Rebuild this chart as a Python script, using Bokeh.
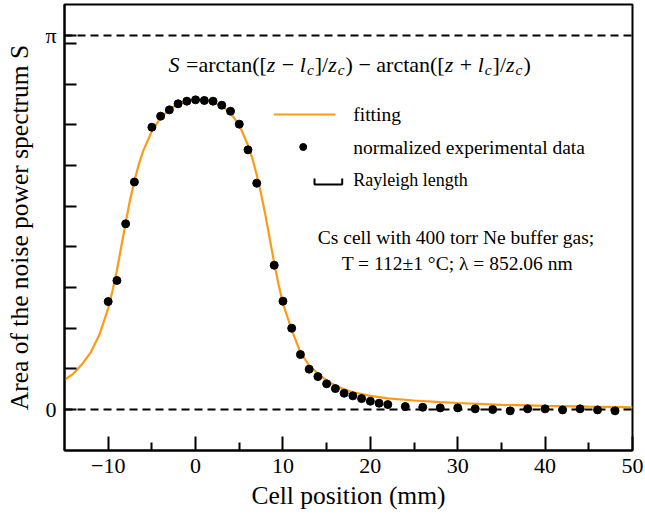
import math
from bokeh.plotting import figure
from bokeh.models import FixedTicker, Span, ColumnDataSource
from bokeh.core.properties import value
from bokeh.embed import file_html
from bokeh.resources import INLINE

# ---------------- data ----------------
fit_x = [-15, -14, -13, -12, -11, -10, -9.5, -9, -8.5, -8, -7.5, -7, -6.5, -6,
         -5, -4, -3, -2, -1, 0, 1, 2, 3, 4, 5, 6,
         6.5, 7, 7.5, 8, 8.5, 9, 9.5, 10,
         11, 12, 13, 14, 15, 16, 17, 18,
         20, 22, 25, 28, 30, 35, 40, 45, 50]
fit_y = [0.25, 0.30, 0.38, 0.48, 0.63, 0.85, 1.00, 1.17, 1.37, 1.57, 1.76, 1.92, 2.06, 2.17,
         2.34, 2.45, 2.52, 2.565, 2.59, 2.60, 2.595, 2.58, 2.55, 2.49, 2.39, 2.22,
         2.11, 1.97, 1.81, 1.63, 1.43, 1.23, 1.05, 0.89,
         0.67, 0.48, 0.37, 0.30, 0.245, 0.20, 0.17, 0.145,
         0.115, 0.094, 0.076, 0.063, 0.055, 0.040, 0.030, 0.024, 0.019]

exp_x = [-10, -9, -8, -7,
         -5, -4, -3, -2, -1, 0, 1, 2, 3, 4, 5, 6, 7,
         9, 10, 11, 12, 13, 14, 15, 16, 17, 18, 19, 20, 21, 22,
         24, 26, 28, 30, 32, 34, 36, 38, 40, 42, 44, 46, 48]
exp_y = [0.907, 1.084, 1.560, 1.911,
         2.371, 2.464, 2.517, 2.568, 2.590, 2.601, 2.596, 2.590, 2.556, 2.506, 2.397, 2.181, 1.901,
         1.212, 0.910, 0.683, 0.462, 0.339, 0.277, 0.216, 0.176, 0.137, 0.115, 0.092, 0.070, 0.053, 0.042,
         0.025, 0.019, 0.014, 0.014, 0.006, 0.0, -0.011, 0.006, 0.006, -0.003, 0.006, -0.003, -0.011]

x_major_ticks = [-10, 0, 10, 20, 30, 40, 50]
x_minor_ticks = [-5, 5, 15, 25, 35, 45]
x_tick_labels = {-10: "\u221210"}
y_major_ticks = [0, math.pi]
y_minor_ticks = [0.3415 * k for k in range(1, 10)]
y_tick_labels = {0: "0", math.pi: "\u03c0"}

x_title = "Cell position (mm)"
y_title = "Area of the noise power spectrum S"
legend_labels = ["fitting", "normalized experimental data", "Rayleigh length"]
note_lines = ["Cs cell with 400 torr Ne buffer gas;",
              "T = 112\u00b11 \u00b0C; \u03bb = 852.06 nm"]

# ---------------- style ----------------
FONT = "Liberation Serif"
ORANGE = "#FF9A17"

p = figure(width=645, height=517, x_range=(-15, 50), y_range=(-0.344, 3.402),
           output_backend="svg", toolbar_location=None,
           min_border_left=64, min_border_right=13, min_border_top=4, min_border_bottom=67)
p.background_fill_color = "white"
p.border_fill_color = "white"
p.xgrid.grid_line_color = None
p.ygrid.grid_line_color = None
p.outline_line_color = "black"
p.outline_line_width = 2
p.outline_line_alpha = 1

for ax in (p.xaxis[0], p.yaxis[0]):
    ax.axis_line_width = 2
    ax.axis_line_color = "black"
    ax.major_tick_line_width = 2
    ax.minor_tick_line_width = 2
    ax.major_tick_line_color = "black"
    ax.minor_tick_line_color = "black"
    ax.major_tick_out = 0
    ax.minor_tick_out = 0
    ax.major_label_text_font = FONT
    ax.major_label_text_font_size = "22px"
    ax.major_label_text_color = "black"
    ax.axis_label_text_font = FONT
    ax.axis_label_text_font_size = "25.5px"
    ax.axis_label_text_font_style = "normal"
    ax.axis_label_text_color = "black"

p.xaxis.ticker = FixedTicker(ticks=x_major_ticks, minor_ticks=x_minor_ticks)
p.xaxis.major_tick_in = 14
p.xaxis.minor_tick_in = 8
p.xaxis.major_label_standoff = 8
p.xaxis.major_label_overrides = x_tick_labels
p.xaxis.axis_label = x_title
p.xaxis.axis_label_standoff = 5

p.yaxis.ticker = FixedTicker(ticks=y_major_ticks, minor_ticks=y_minor_ticks)
p.yaxis.major_tick_in = 12
p.yaxis.minor_tick_in = 12
p.yaxis.major_label_standoff = 8
p.yaxis.major_label_overrides = y_tick_labels
p.yaxis.axis_label = y_title
p.yaxis.axis_label_standoff = 8

for loc in (0, math.pi):
    p.add_layout(Span(location=loc, dimension="width", line_color="black",
                      line_width=2, line_dash="8 5"))

p.line(fit_x, fit_y, line_color=ORANGE, line_width=2.2)
p.scatter(exp_x, exp_y, size=8, fill_color="black", line_color="black")

# ---------------- legend (drawn by hand) ----------------
LEG = dict(line_x=[8.95, 16.01], line_y=2.478, dot_x=12.32, dot_y=2.205,
           br_x0=13.61, br_x1=16.78, br_lo=1.89, br_hi=1.94, text_x=18.04,
           text_y=[2.478, 2.205, 1.924])
p.line(LEG["line_x"], [LEG["line_y"]] * 2, line_color=ORANGE, line_width=2.2)
p.scatter([LEG["dot_x"]], [LEG["dot_y"]], size=7, fill_color="black", line_color="black")
p.line([LEG["br_x0"], LEG["br_x0"], LEG["br_x1"], LEG["br_x1"]],
       [LEG["br_hi"], LEG["br_lo"], LEG["br_lo"], LEG["br_hi"]],
       line_color="black", line_width=2)
p.text(x=[LEG["text_x"]] * 2, y=LEG["text_y"][:2], text=legend_labels[:2],
       text_font=value(FONT), text_font_size="19.5px", text_baseline="middle",
       text_align="left", text_color="black")
p.text(x=[LEG["text_x"]], y=[LEG["text_y"][2]], text=[legend_labels[2]],
       text_font=value(FONT), text_font_size="18px", text_baseline="middle",
       text_align="left", text_color="black")
p.text(x=[29.8, 29.95], y=[1.447, 1.224], text=note_lines,
       text_font=value(FONT), text_font_size="19.5px", text_baseline="middle",
       text_align="center", text_color="black")

# ---------------- formula ----------------
W = {("reg", ch): w for ch, w in {'a': 444, 'r': 333, 'c': 444, 't': 278, 'n': 500, '(': 333,
                                   ')': 333, '[': 333, ']': 333, '/': 278, '=': 564,
                                   '\u2212': 564, '+': 564, ' ': 250}.items()}
W.update({("it", ch): w for ch, w in {'S': 500, 'z': 389, 'l': 278, 'c': 444}.items()})
F_SIZE = 22.0
segments = [("S", "it", 0), (" =arctan([", "reg", 0), ("z", "it", 0), (" \u2212 ", "reg", 0),
            ("l", "it", 0), ("c", "it", 1), ("]/", "reg", 0), ("z", "it", 0), ("c", "it", 1),
            (") \u2212 arctan([", "reg", 0), ("z", "it", 0), (" + ", "reg", 0),
            ("l", "it", 0), ("c", "it", 1), ("]/", "reg", 0), ("z", "it", 0), ("c", "it", 1),
            (")", "reg", 0)]
fx0, fy0 = -3.1, 2.898
groups = {}
off = 0.0
for txt, sty, sub in segments:
    size = F_SIZE * (0.7 if sub else 1.0)
    scale = size / 1000.0
    lead = len(txt) - len(txt.lstrip(" "))
    body = txt.strip(" ")
    trail = len(txt) - len(txt.rstrip(" "))
    off += lead * W[("reg", " ")] * scale
    key = (sty, sub)
    g = groups.setdefault(key, dict(x=[], y=[], text=[], dx=[], dy=[]))
    g["x"].append(fx0)
    g["y"].append(fy0)
    g["text"].append(body)
    g["dx"].append(off)
    g["dy"].append(5 if sub else 0)
    off += sum(W[(sty, ch)] for ch in body) * scale + (1.0 if sty == "it" else 0.0)
    off += trail * W[("reg", " ")] * scale
for (sty, sub), g in groups.items():
    src = ColumnDataSource(g)
    p.text(x="x", y="y", text="text", x_offset="dx", y_offset="dy", source=src,
           text_font=value(FONT), text_font_size=f"{F_SIZE * (0.7 if sub else 1.0):.1f}px",
           text_font_style="italic" if sty == "it" else "normal",
           text_baseline="alphabetic", text_align="left", text_color="black")

open("out.html", "w").write(file_html(p, INLINE))
